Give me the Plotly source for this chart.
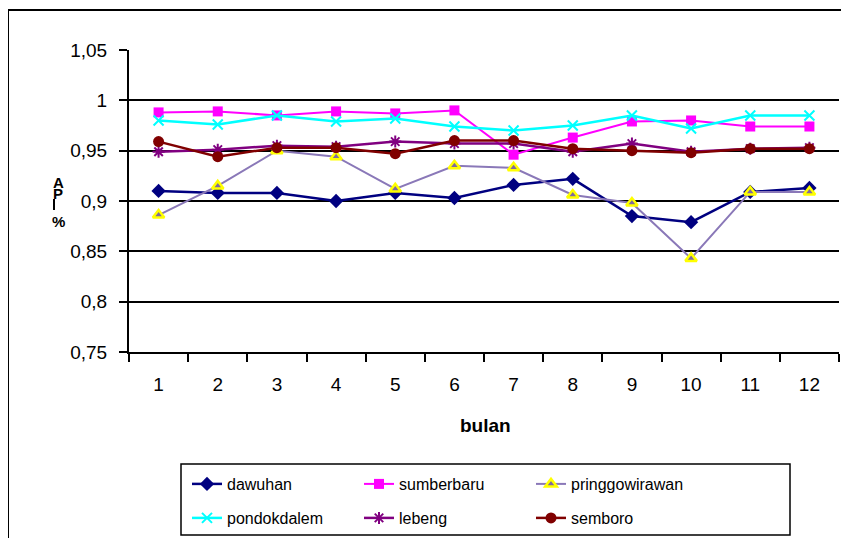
import plotly.graph_objects as go

months = [str(i) for i in range(1, 13)]
dawuhan = [0.910, 0.908, 0.908, 0.900, 0.908, 0.903, 0.916, 0.922, 0.885, 0.879, 0.909, 0.913]
sumberbaru = [0.988, 0.989, 0.985, 0.989, 0.987, 0.990, 0.946, 0.963, 0.979, 0.980, 0.974, 0.974]
pringgowirawan = [0.886, 0.915, 0.950, 0.944, 0.912, 0.935, 0.933, 0.906, 0.898, 0.843, 0.909, 0.909]
pondokdalem = [0.980, 0.976, 0.985, 0.979, 0.982, 0.974, 0.970, 0.975, 0.985, 0.972, 0.985, 0.985]
lebeng = [0.949, 0.951, 0.955, 0.954, 0.959, 0.957, 0.957, 0.949, 0.957, 0.949, 0.952, 0.953]
semboro = [0.959, 0.944, 0.953, 0.953, 0.947, 0.960, 0.960, 0.952, 0.950, 0.948, 0.952, 0.952]
y_ticks = [0.75, 0.8, 0.85, 0.9, 0.95, 1.0, 1.05]

# page body margin of the browser shifts the figure by 8px
OFF = 8
W, H = 849 - OFF, 580
# plot area in screenshot pixels
L, R, T, B = 129, 839, 50, 352


def px(x):
    return (x - L) / (R - L)


def py(y):
    return (B - y) / (B - T)


fig = go.Figure()
fig.add_trace(go.Scatter(x=months, y=dawuhan, name="dawuhan", mode="lines+markers",
                         line=dict(color="#000080", width=2.5), legend="legend",
                         marker=dict(symbol="diamond", size=11, color="#000080")))
fig.add_trace(go.Scatter(x=months, y=sumberbaru, name="sumberbaru", mode="lines+markers",
                         line=dict(color="#FF00FF", width=2), legend="legend",
                         marker=dict(symbol="square", size=10, color="#FF00FF")))
fig.add_trace(go.Scatter(x=months, y=pringgowirawan, name="pringgowirawan", mode="lines+markers",
                         line=dict(color="#8A78B8", width=2), legend="legend",
                         marker=dict(symbol="triangle-up", size=10, color="#7F6A9F",
                                     line=dict(color="#FFFF00", width=2.5))))
fig.add_trace(go.Scatter(x=months, y=pondokdalem, name="pondokdalem", mode="lines+markers",
                         line=dict(color="#00FFFF", width=2.5), legend="legend2",
                         marker=dict(symbol="x-thin", size=10, color="#00FFFF",
                                     line=dict(color="#00FFFF", width=2))))
fig.add_trace(go.Scatter(x=months, y=lebeng, name="lebeng", mode="lines+markers",
                         line=dict(color="#800080", width=2.5), legend="legend2",
                         marker=dict(symbol="asterisk", size=10, color="#800080",
                                     line=dict(color="#800080", width=2))))
fig.add_trace(go.Scatter(x=months, y=semboro, name="semboro", mode="lines+markers",
                         line=dict(color="#800000", width=2.5), legend="legend2",
                         marker=dict(symbol="circle", size=11, color="#800000")))

font = "Arial, Liberation Sans, sans-serif"
leg_common = dict(orientation="h", xanchor="left", yanchor="top",
                  entrywidth=127, entrywidthmode="pixels",
                  font=dict(size=16, family=font), bgcolor="rgba(0,0,0,0)",
                  borderwidth=0, itemwidth=30)

fig.update_layout(
    width=W, height=H,
    margin=dict(l=L - OFF, r=W - (R - OFF), t=T - OFF, b=H - (B - OFF)),
    paper_bgcolor="white", plot_bgcolor="white",
    separators=",.",
    font=dict(family=font, size=19, color="black"),
    showlegend=True,
    legend=dict(x=px(187), y=py(467), **leg_common),
    legend2=dict(x=px(187), y=py(501), **leg_common),
    xaxis=dict(type="category", range=[-0.5, 11.5], autorange=False,
               showgrid=False, showline=True, linecolor="black", linewidth=2,
               ticks="outside", tickson="boundaries", ticklen=8, tickwidth=2, tickcolor="black",
               tickfont=dict(size=19), ticklabelstandoff=14, zeroline=False),
    yaxis=dict(range=[0.75, 1.05], autorange=False, tickvals=y_ticks, showgrid=True,
               gridcolor="black", gridwidth=2,
               showline=True, linecolor="black", linewidth=2, ticks="outside", ticklen=8,
               tickwidth=2, tickcolor="black", tickfont=dict(size=19), ticklabelstandoff=8,
               zeroline=False),
)

# x-axis title
fig.add_annotation(text="<b>bulan</b>", x=px(485), y=py(425), xref="paper", yref="paper",
                   xanchor="center", yanchor="middle",
                   showarrow=False, font=dict(size=19, family=font))
# stacked y-axis title
for txt, yy in (("A", 182), ("P", 193), ("%", 221)):
    fig.add_annotation(text="<b>%s</b>" % txt, x=px(58), y=py(yy), xref="paper", yref="paper",
                       xanchor="center", yanchor="middle",
                       showarrow=False, font=dict(size=15, family=font))
fig.add_shape(type="line", xref="paper", yref="paper", x0=px(54), x1=px(54), y0=py(199), y1=py(210),
              line=dict(color="black", width=2))

# outer chart border
fig.add_shape(type="rect", xref="paper", yref="paper", x0=px(8), x1=px(900), y0=py(10), y1=py(650),
              line=dict(color="black", width=2), layer="below")
# legend box
fig.add_shape(type="rect", xref="paper", yref="paper", x0=px(181), x1=px(790), y0=py(464), y1=py(535),
              line=dict(color="black", width=1.5), layer="below")

fig.write_html("out.html")
